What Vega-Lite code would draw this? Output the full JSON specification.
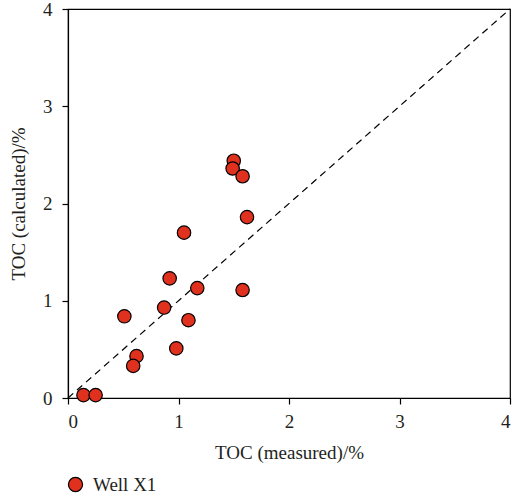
{
  "$schema": "https://vega.github.io/schema/vega-lite/v6.json",
  "width": 442,
  "height": 389,
  "autosize": "none",
  "padding": {"left": 68, "top": 9, "right": 4, "bottom": 104},
  "background": "white",
  "config": {
    "font": "Liberation Serif",
    "view": {"stroke": "black", "strokeWidth": 1.2},
    "axis": {
      "grid": false,
      "domainColor": "black",
      "domainWidth": 1.2,
      "tickColor": "black",
      "tickWidth": 1.2,
      "tickSize": 6,
      "labelFontSize": 19,
      "labelColor": "#231f20",
      "titleFontSize": 19,
      "titleFontWeight": "normal",
      "titleColor": "#231f20",
      "labelFont": "Liberation Serif",
      "titleFont": "Liberation Serif"
    },
    "legend": {
      "labelFont": "Liberation Serif",
      "labelFontSize": 19,
      "labelColor": "#231f20"
    }
  },
  "datasets": {
    "pts": [
      {"measured": 0.14, "calculated": 0.03, "well": "Well X1"},
      {"measured": 0.25, "calculated": 0.03, "well": "Well X1"},
      {"measured": 0.51, "calculated": 0.84, "well": "Well X1"},
      {"measured": 0.62, "calculated": 0.43, "well": "Well X1"},
      {"measured": 0.59, "calculated": 0.33, "well": "Well X1"},
      {"measured": 0.87, "calculated": 0.93, "well": "Well X1"},
      {"measured": 0.92, "calculated": 1.23, "well": "Well X1"},
      {"measured": 0.98, "calculated": 0.51, "well": "Well X1"},
      {"measured": 1.05, "calculated": 1.70, "well": "Well X1"},
      {"measured": 1.09, "calculated": 0.80, "well": "Well X1"},
      {"measured": 1.17, "calculated": 1.13, "well": "Well X1"},
      {"measured": 1.50, "calculated": 2.44, "well": "Well X1"},
      {"measured": 1.49, "calculated": 2.36, "well": "Well X1"},
      {"measured": 1.58, "calculated": 2.28, "well": "Well X1"},
      {"measured": 1.62, "calculated": 1.86, "well": "Well X1"},
      {"measured": 1.58, "calculated": 1.11, "well": "Well X1"}
    ],
    "diag": [
      {"measured": 0, "calculated": 0},
      {"measured": 4, "calculated": 4}
    ]
  },
  "layer": [
    {
      "data": {"name": "diag"},
      "mark": {"type": "line", "color": "black", "strokeWidth": 1.2, "strokeDash": [7, 5]},
      "encoding": {
        "x": {"field": "measured", "type": "quantitative"},
        "y": {"field": "calculated", "type": "quantitative"}
      }
    },
    {
      "data": {"name": "pts"},
      "mark": {"type": "point", "filled": true, "shape": "circle", "size": 180, "stroke": "black", "strokeWidth": 1.2, "opacity": 1},
      "encoding": {
        "x": {
          "field": "measured", "type": "quantitative",
          "scale": {"domain": [0, 4], "nice": false},
          "axis": {"values": [0, 1, 2, 3, 4], "format": "d", "title": "TOC (measured)/%", "labelPadding": 8, "titlePadding": 12}
        },
        "y": {
          "field": "calculated", "type": "quantitative",
          "scale": {"domain": [0, 4], "nice": false},
          "axis": {"values": [0, 1, 2, 3, 4], "format": "d", "title": "TOC (calculated)/%", "labelPadding": 10, "titlePadding": 14}
        },
        "color": {
          "field": "well", "type": "nominal",
          "scale": {"domain": ["Well X1"], "range": ["#e0301e"]},
          "legend": {
            "title": null,
            "orient": "none",
            "legendX": -2,
            "legendY": 466,
            "labelFont": "Liberation Serif",
            "labelFontSize": 19,
            "labelOffset": 8,
            "symbolSize": 200,
            "symbolStrokeColor": "black",
            "symbolStrokeWidth": 1.2,
            "symbolType": "circle"
          }
        }
      }
    }
  ]
}
